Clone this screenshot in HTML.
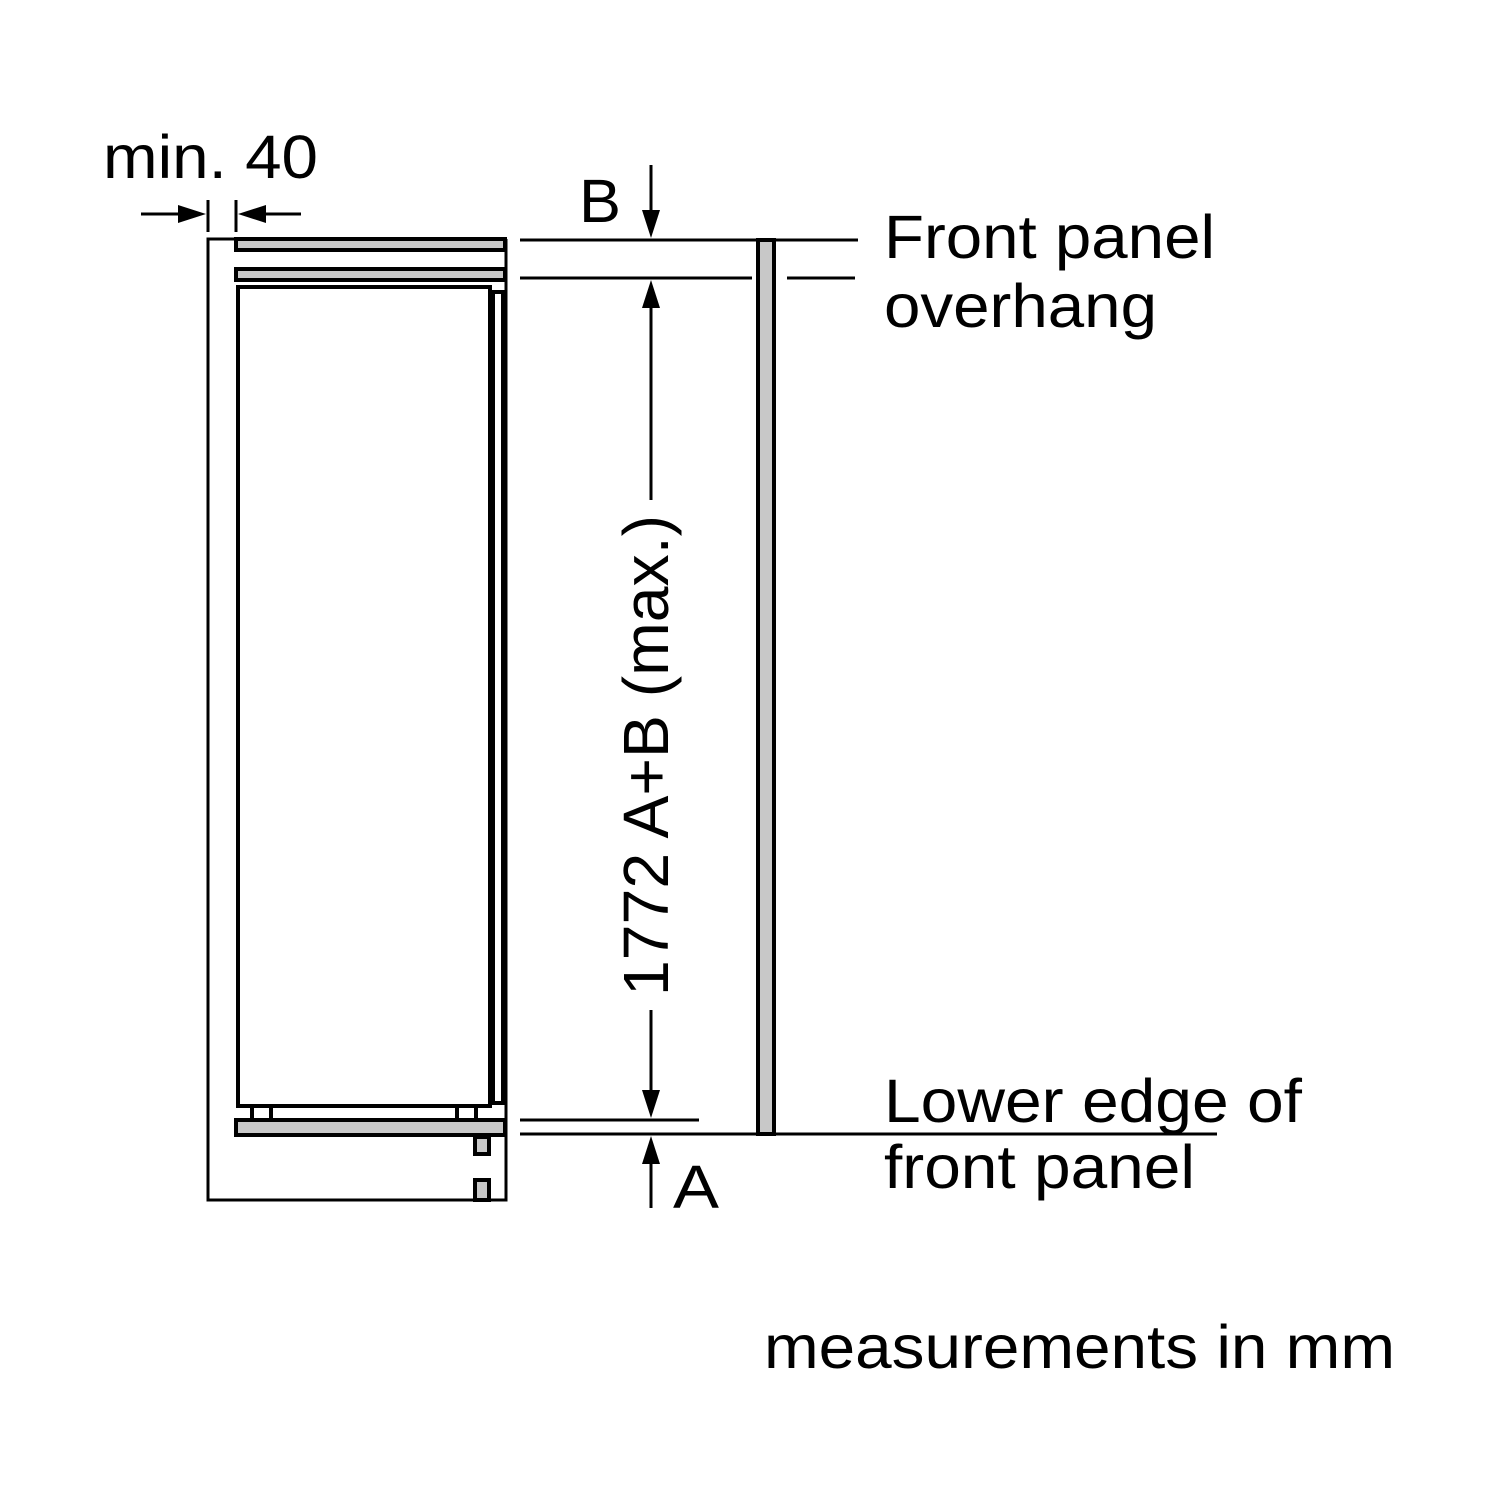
<!DOCTYPE html>
<html><head><meta charset="utf-8"><style>html,body{margin:0;padding:0;background:#fff}svg{display:block}</style></head>
<body>
<svg width="1500" height="1500" viewBox="0 0 1500 1500" xmlns="http://www.w3.org/2000/svg" font-family="Liberation Sans, sans-serif">
<rect width="1500" height="1500" fill="#fff"/>
<g stroke="#000" fill="none" stroke-width="3">
<path d="M236 239 H208 V1200 H506 V239"/>
</g>
<g stroke="#000" stroke-width="4" fill="#c8c8c8">
<rect x="236" y="239" width="269" height="11"/>
<rect x="236" y="269" width="269" height="11"/>
<rect x="236" y="1120" width="269" height="15"/>
<rect x="475" y="1137" width="14" height="17"/>
<rect x="475" y="1180" width="14" height="20"/>
<rect x="758" y="240" width="16" height="894"/>
</g>
<g stroke="#000" stroke-width="4" fill="none">
<rect x="238" y="287" width="252" height="819"/>
<rect x="493" y="292" width="10" height="811"/>
<path d="M252 1108 V1118 M271 1108 V1118 M457 1108 V1118 M476 1108 V1118"/>
</g>
<g stroke="#000" stroke-width="3" fill="none">
<line x1="520" y1="240" x2="858" y2="240"/>
<line x1="520" y1="278" x2="752" y2="278"/>
<line x1="787" y1="278" x2="855" y2="278"/>
<line x1="520" y1="1120" x2="699" y2="1120"/>
<line x1="520" y1="1134" x2="1217" y2="1134"/>
<line x1="651" y1="165" x2="651" y2="215"/>
<line x1="651" y1="300" x2="651" y2="500"/>
<line x1="651" y1="1010" x2="651" y2="1100"/>
<line x1="651" y1="1160" x2="651" y2="1208"/>
<line x1="208" y1="200" x2="208" y2="232"/>
<line x1="236" y1="200" x2="236" y2="232"/>
<line x1="141" y1="214" x2="180" y2="214"/>
<line x1="262" y1="214" x2="301" y2="214"/>
</g>
<g fill="#000">
<polygon points="642,210 660,210 651,238"/>
<polygon points="642,308 660,308 651,280"/>
<polygon points="642,1090 660,1090 651,1118"/>
<polygon points="642,1164 660,1164 651,1136"/>
<polygon points="178,205 178,223 206,214"/>
<polygon points="266,205 266,223 238,214"/>
</g>
<g fill="#000" font-size="61" lengthAdjust="spacingAndGlyphs">
<text x="103" y="178" textLength="215" lengthAdjust="spacingAndGlyphs">min. 40</text>
<text x="579" y="222" textLength="42" lengthAdjust="spacingAndGlyphs">B</text>
<text x="884" y="258" textLength="331" lengthAdjust="spacingAndGlyphs">Front panel</text>
<text x="884" y="327" textLength="273" lengthAdjust="spacingAndGlyphs">overhang</text>
<text x="884" y="1122" textLength="418" lengthAdjust="spacingAndGlyphs">Lower edge of</text>
<text x="884" y="1188" textLength="311" lengthAdjust="spacingAndGlyphs">front panel</text>
<text x="673" y="1208" textLength="46" lengthAdjust="spacingAndGlyphs">A</text>
<text x="764" y="1368" textLength="631" lengthAdjust="spacingAndGlyphs">measurements in mm</text>
<text transform="translate(668,996) rotate(-90)" font-size="64" textLength="481" lengthAdjust="spacingAndGlyphs">1772 A+B (max.)</text>
</g>
</svg>
</body></html>
